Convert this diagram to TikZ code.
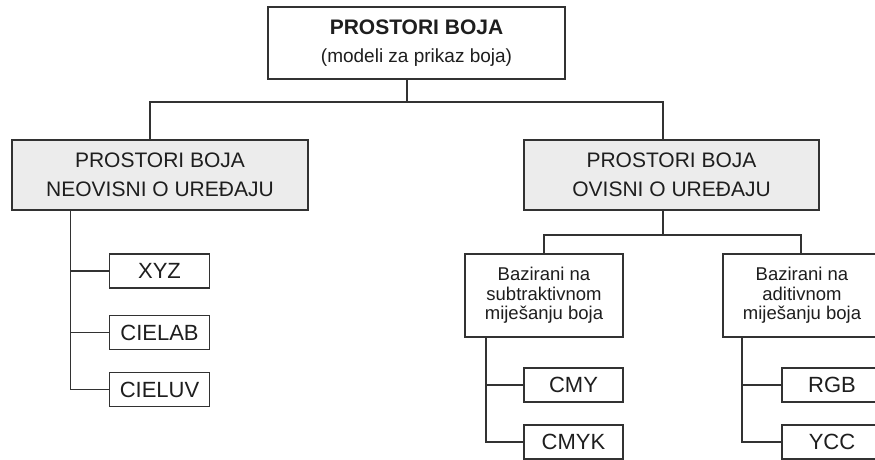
\documentclass[tikz,border=0pt]{standalone}
\usepackage{fontspec}
\setmainfont{Liberation Sans}
\definecolor{ln}{RGB}{50,50,50}
\definecolor{tx}{RGB}{30,30,30}
\definecolor{gf}{RGB}{236,236,236}
\begin{document}
\begin{tikzpicture}[x=1pt,y=-1pt,
  box/.style={draw=ln, line width=1.5pt, text=tx, inner sep=0pt, align=center},
  lvl/.style={box, fill=gf, minimum width=296pt, minimum height=70pt, font=\fontsize{21}{29}\selectfont},
  sub/.style={box, minimum width=158pt, minimum height=83pt, font=\fontsize{18.5}{19.5}\selectfont},
  leaf/.style={box, minimum width=100pt, minimum height=34pt, font=\fontsize{22}{25}\selectfont},
  conn/.style={draw=ln, line width=1.5pt}]
\useasboundingbox (0,0) rectangle (875,459);
\fill[white] (0,0) rectangle (875,459);
\clip (0,0) rectangle (875,459);

\node[box, minimum width=297pt, minimum height=72pt, font=\fontsize{21}{28}\selectfont] (top) at (416.5,43)
  {\textbf{PROSTORI BOJA}\\{\fontsize{19}{28}\selectfont (modeli za prikaz boja)}};
\node[lvl] (L) at (160,175) {PROSTORI BOJA\\NEOVISNI O UREĐAJU};
\node[lvl, minimum width=295pt] (R) at (671.5,175) {PROSTORI BOJA\\OVISNI O UREĐAJU};

\node[leaf] (xyz) at (159.5,271) {XYZ};
\node[leaf] (lab) at (159.5,332.5) {CIELAB};
\node[leaf] (luv) at (159.5,389.5) {CIELUV};

\node[sub] (s1) at (544,295.5) {Bazirani na\\subtraktivnom\\miješanju boja};
\node[sub] (s2) at (802,295.5) {Bazirani na\\aditivnom\\miješanju boja};

\node[leaf, minimum width=99pt] (cmy) at (573.5,385) {CMY};
\node[leaf, minimum width=99pt] (cmyk) at (573.5,442) {CMYK};
\node[leaf] (rgb) at (832,385) {RGB};
\node[leaf] (ycc) at (832,442) {YCC};

\coordinate (j0) at (407,102);
\coordinate (la) at (150,102);
\coordinate (ra) at (663,102);
\draw[conn] (top.south -| j0) -- (j0);
\draw[conn] (L.north -| la) -- (la) -- (ra) -- (R.north -| ra);

\coordinate (lv) at (70.7,300);
\draw[conn] (L.south -| lv) |- (luv.west);
\draw[conn] (lv |- xyz.west) -- (xyz.west);
\draw[conn] (lv |- lab.west) -- (lab.west);

\coordinate (rb) at (663,235);
\coordinate (s1a) at (544,235);
\coordinate (s2a) at (801,235);
\draw[conn] (R.south -| rb) -- (rb);
\draw[conn] (s1.north -| s1a) -- (s1a) -- (s2a) -- (s2.north -| s2a);

\coordinate (v1) at (486,400);
\draw[conn] (s1.south -| v1) |- (cmyk.west);
\draw[conn] (v1 |- cmy.west) -- (cmy.west);
\coordinate (v2) at (742,400);
\draw[conn] (s2.south -| v2) |- (ycc.west);
\draw[conn] (v2 |- rgb.west) -- (rgb.west);
\end{tikzpicture}
\end{document}
